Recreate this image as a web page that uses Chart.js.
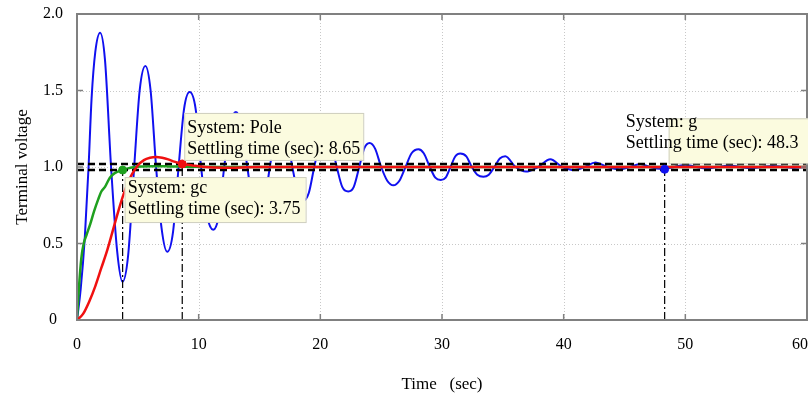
<!DOCTYPE html>
<html><head><meta charset="utf-8">
<script src="https://cdn.jsdelivr.net/npm/chart.js@4"></script>
<style>html,body{margin:0;padding:0;background:#fff;}#wrap{width:808px;height:398px;}</style>
</head><body><div id="wrap"><canvas id="c" width="808" height="398"></canvas></div>
<script>
// ---- data ----
const gTime = [0, 0.3, 0.65, 0.95, 1.2, 1.5, 1.9, 2.3, 2.8, 3.3, 3.74, 4.2, 4.7, 5.15, 5.62, 6.05, 6.5, 6.95, 7.41, 7.9, 8.35, 8.8, 9.26, 9.75, 10.2, 10.7, 11.2, 11.65, 12.1, 12.6, 13.06, 13.5, 14.0, 14.45, 14.9, 15.4, 15.85, 16.3, 16.8, 17.25, 17.7, 18.15, 18.6, 19.05, 19.5, 19.95, 20.4, 20.9, 21.35, 21.8, 22.3, 22.75, 23.2, 23.6, 24.05, 24.5, 25.0, 25.5, 26.0, 26.5, 27.0, 27.5, 28.07, 28.5, 29.0, 29.45, 29.9, 30.3, 30.7, 31.1, 31.5, 32.0, 32.45, 32.9, 33.4, 33.85, 34.3, 34.75, 35.2, 36.05, 36.9, 37.9, 38.9, 39.9, 40.9, 41.75, 42.6, 43.6, 44.6, 45.45, 46.3, 47.1, 47.9, 48.3, 49.1, 50.0, 50.9, 51.8, 52.7, 53.6, 54.5, 55.4, 56.3, 57.2, 58.1, 59.0, 60];
const gVolt = [0, 0.2, 0.55, 1.0, 1.45, 1.75, 1.878, 1.7, 1.0, 0.45, 0.25, 0.42, 1.0, 1.5, 1.66, 1.5, 1.0, 0.6, 0.446, 0.58, 1.0, 1.38, 1.49, 1.38, 1.0, 0.68, 0.59, 0.68, 1.0, 1.28, 1.36, 1.28, 1.0, 0.76, 0.69, 0.76, 1.0, 1.2, 1.26, 1.2, 1.0, 0.83, 0.78, 0.83, 1.0, 1.15, 1.19, 1.15, 1.0, 0.87, 0.84, 0.87, 1.0, 1.12, 1.157, 1.12, 1.0, 0.91, 0.88, 0.91, 1.0, 1.09, 1.116, 1.09, 1.0, 0.93, 0.915, 0.93, 1.0, 1.07, 1.089, 1.07, 1.0, 0.95, 0.937, 0.95, 1.0, 1.055, 1.07, 1.0, 0.97, 1.0, 1.05, 1.0, 0.98, 1.0, 1.03, 1.0, 0.985, 1.0, 1.02, 1.0, 0.988, 0.99, 1.0, 1.015, 1.0, 0.99, 1.0, 1.01, 1.0, 0.992, 1.0, 1.007, 1.0, 0.995, 1.0];
const gcTime = [0, 0.15, 0.35, 0.55, 0.8, 1.1, 1.4, 1.75, 2.0, 2.3, 2.7, 3.1, 3.75, 4.4, 5.2, 6.2, 7.5, 9, 12, 20, 60];
const gcVolt = [0, 0.2, 0.4, 0.5, 0.56, 0.63, 0.71, 0.79, 0.84, 0.87, 0.93, 0.96, 0.98, 0.995, 1.003, 1.005, 1.004, 1.002, 1.0, 1.0, 1.0];
const poleTime = [0, 0.5, 1.0, 1.5, 2.0, 2.5, 3.0, 3.5, 4.0, 4.5, 5.0, 5.5, 6.0, 6.5, 7.0, 7.5, 8.0, 8.65, 9.5, 10.5, 12, 15, 20, 60];
const poleVolt = [0, 0.04, 0.12, 0.22, 0.34, 0.46, 0.6, 0.74, 0.86, 0.95, 1.01, 1.045, 1.06, 1.065, 1.06, 1.05, 1.035, 1.02, 1.01, 1.0, 0.995, 1.0, 1.0, 1.0];
const settleSystems = ['gc', 'Pole', 'g'];
const settleTimes = [3.75, 8.65, 48.3];
const settleVolts = [0.98, 1.02, 0.985];
const boundLevels = [0.98, 1.02];
const xRange = [0, 60];
const xTicks = [0, 10, 20, 30, 40, 50, 60];
const xTickLabels = ['0', '10', '20', '30', '40', '50', '60'];
const yTicks = [0, 0.5, 1.0, 1.5, 2.0];
const yTickLabels = ['0', '0.5', '1.0', '1.5', '2.0'];

const FONT = "'Liberation Serif', 'Times New Roman', serif";
const pts = (t, v) => t.map((x, i) => ({x, y: v[i]}));
const colors = {g: '#1010f0', gc: '#1fa01f', Pole: '#f01010'};

const datasets = [];
datasets.push({data: pts(poleTime, poleVolt), borderColor: colors.Pole, borderWidth: 2.5, pointRadius: 0, cubicInterpolationMode: 'monotone', order: 1});
boundLevels.forEach(b => datasets.push({data: pts(xRange, [b, b]), borderColor: '#000', borderWidth: 2.6, borderDash: [7, 4], pointRadius: 0, order: 3}));
datasets.push({data: pts(gcTime, gcVolt), borderColor: colors.gc, borderWidth: 2.5, pointRadius: 0, cubicInterpolationMode: 'monotone', order: 4});
datasets.push({data: pts(gTime, gVolt), borderColor: colors.g, borderWidth: 2, pointRadius: 0, cubicInterpolationMode: 'monotone', order: 6});
settleSystems.forEach((s, i) => {
  datasets.push({data: pts([settleTimes[i], settleTimes[i]], [0, settleVolts[i]]), borderColor: '#000', borderWidth: 1.2, borderDash: [8, 3, 2, 3], pointRadius: 0, order: 5});
  datasets.push({data: pts([settleTimes[i]], [settleVolts[i]]), showLine: false, pointRadius: 4, pointBackgroundColor: colors[s], pointBorderColor: colors[s], order: 0});
});

const annos = [
  {sys: 'gc', boxDx: 2, boxDy: 7, boxW: 181, boxH: 45, textDx: 5, textDy: 18},
  {sys: 'Pole', boxDx: 2, boxDy: -51, boxW: 179, boxH: 47, textDx: 5, textDy: -36},
  {sys: 'g', boxDx: 4, boxDy: -51, boxW: 160, boxH: 45, textDx: -39, textDy: -47}
];

const framePlugin = {
  id: 'frame',
  beforeDatasetsDraw(chart) {
    const {ctx, chartArea: a, scales: {x, y}} = chart;
    ctx.save();
    ctx.strokeStyle = '#c8c8c8'; ctx.lineWidth = 1; ctx.setLineDash([1, 2]);
    xTicks.slice(1, -1).forEach(t => { const p = Math.round(x.getPixelForValue(t)) + 0.5; ctx.beginPath(); ctx.moveTo(p, a.top); ctx.lineTo(p, a.bottom); ctx.stroke(); });
    yTicks.slice(1, -1).forEach(t => { const p = Math.round(y.getPixelForValue(t)) + 0.5; ctx.beginPath(); ctx.moveTo(a.left, p); ctx.lineTo(a.right, p); ctx.stroke(); });
    ctx.restore();
  },
  afterDatasetsDraw(chart) {
    const {ctx, chartArea: a, scales: {x, y}} = chart;
    ctx.save();
    ctx.strokeStyle = '#808080'; ctx.lineWidth = 2; ctx.setLineDash([]);
    ctx.strokeRect(a.left, a.top, a.right - a.left, a.bottom - a.top);
    ctx.lineWidth = 1.5;
    xTicks.slice(1, -1).forEach(t => { const p = x.getPixelForValue(t); ctx.beginPath(); ctx.moveTo(p, a.bottom); ctx.lineTo(p, a.bottom - 6); ctx.moveTo(p, a.top); ctx.lineTo(p, a.top + 6); ctx.stroke(); });
    yTicks.slice(1, -1).forEach(t => { const p = y.getPixelForValue(t); ctx.beginPath(); ctx.moveTo(a.left, p); ctx.lineTo(a.left + 6, p); ctx.moveTo(a.right, p); ctx.lineTo(a.right - 6, p); ctx.stroke(); });
    ctx.fillStyle = '#000'; ctx.font = '16px ' + FONT; ctx.textAlign = 'center'; ctx.textBaseline = 'middle';
    xTicks.forEach((t, i) => ctx.fillText(xTickLabels[i], Math.min(x.getPixelForValue(t), chart.width - 8), a.bottom + 25));
    ctx.font = '18px ' + FONT; ctx.textBaseline = 'middle'; ctx.textAlign = 'left';
    annos.forEach(an => {
      const i = settleSystems.indexOf(an.sys);
      const px = x.getPixelForValue(settleTimes[i]), py = y.getPixelForValue(settleVolts[i]);
      ctx.fillStyle = '#fbfbdf'; ctx.strokeStyle = '#cfcfbf'; ctx.lineWidth = 1;
      ctx.fillRect(px + an.boxDx, py + an.boxDy, an.boxW, an.boxH);
      ctx.strokeRect(px + an.boxDx + 0.5, py + an.boxDy + 0.5, an.boxW, an.boxH);
      ctx.fillStyle = '#000';
      ctx.fillText('System: ' + an.sys, px + an.textDx, py + an.textDy);
      ctx.fillText('Settling time (sec): ' + settleTimes[i], px + an.textDx, py + an.textDy + 21);
    });
    ctx.restore();
  }
};

new Chart(document.getElementById('c'), {
  type: 'line',
  data: {datasets},
  options: {
    responsive: false, animation: false, devicePixelRatio: 1,
    layout: {autoPadding: false, padding: {top: 14, right: 1, left: 0, bottom: 0}},
    plugins: {legend: {display: false}, tooltip: {enabled: false}},
    scales: {
      x: {
        type: 'linear', min: 0, max: 60,
        grid: {display: false, drawTicks: false}, border: {display: false},
        afterBuildTicks: s => { s.ticks = xTicks.map(v => ({value: v})); },
        ticks: {display: false},
        title: {display: true, text: 'Time   (sec)', color: '#000', font: {family: FONT, size: 17}, padding: {top: 0, bottom: 3}},
        afterFit: s => { s.height = 78; s.paddingLeft = 0; s.paddingRight = 0; }
      },
      y: {
        type: 'linear', min: 0, max: 2,
        grid: {display: false, drawTicks: false}, border: {display: false},
        afterBuildTicks: s => { s.ticks = yTicks.map(v => ({value: v})); },
        ticks: {color: '#000', font: {family: FONT, size: 16}, padding: 14, crossAlign: 'center', autoSkip: false, callback: (v) => yTickLabels[yTicks.indexOf(v)]},
        title: {display: true, text: 'Terminal voltage', color: '#000', font: {family: FONT, size: 17}, padding: {top: 12, bottom: 0}},
        afterFit: s => { s.width = 77; s.paddingTop = 0; s.paddingBottom = 0; }
      }
    }
  },
  plugins: [framePlugin]
});
</script></body></html>
